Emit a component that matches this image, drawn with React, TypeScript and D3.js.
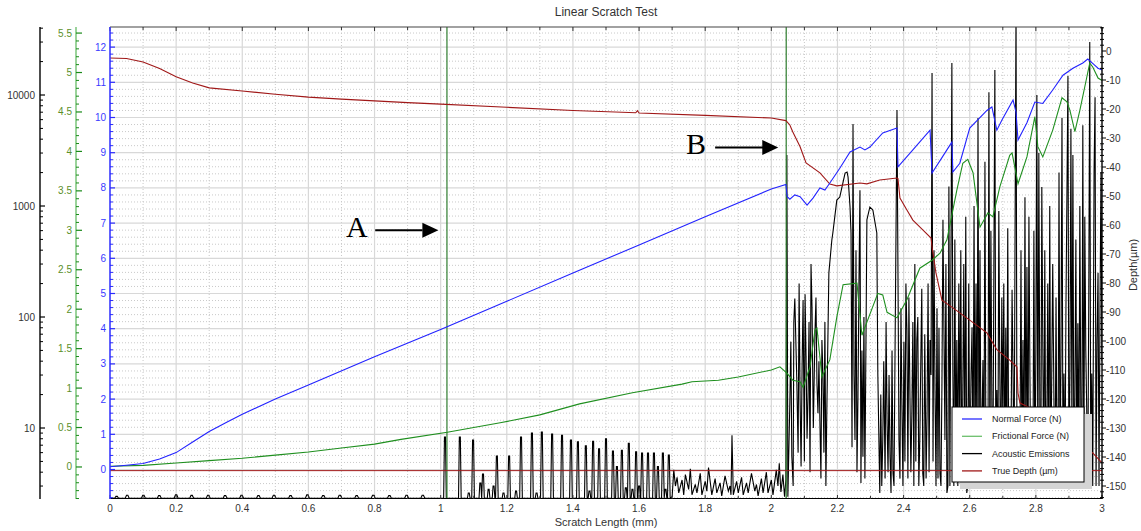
import React from 'react';
import * as d3 from 'd3';

type P = [number, number];

// ---------- tick values ----------
const xTickValues = [0, 0.2, 0.4, 0.6, 0.8, 1, 1.2, 1.4, 1.6, 1.8, 2, 2.2, 2.4, 2.6, 2.8, 3];
const normalTicks = [0, 1, 2, 3, 4, 5, 6, 7, 8, 9, 10, 11, 12];
const frictionTicks = [0, 0.5, 1, 1.5, 2, 2.5, 3, 3.5, 4, 4.5, 5, 5.5];
const aeTicks = [10, 100, 1000, 10000];
const depthTicks = [0, -10, -20, -30, -40, -50, -60, -70, -80, -90, -100, -110, -120, -130, -140, -150];

// ---------- series (scratch length mm, value) ----------
const normalForce: P[] = [
  [0, 0.08], [0.05, 0.12], [0.1, 0.17], [0.15, 0.3], [0.2, 0.48], [0.25, 0.78], [0.3, 1.08], [0.35, 1.33],
  [0.4, 1.57], [0.5, 2.0], [0.6, 2.4], [0.8, 3.2], [1.0, 3.98], [1.2, 4.78], [1.4, 5.58], [1.6, 6.38],
  [1.8, 7.18], [2.0, 7.97], [2.044, 8.1], [2.048, 7.75], [2.056, 7.68], [2.071, 7.8], [2.087, 7.75],
  [2.108, 7.51], [2.126, 7.71], [2.147, 8.0], [2.162, 7.94], [2.177, 8.14], [2.207, 8.56], [2.238, 9.02],
  [2.268, 9.16], [2.283, 9.08], [2.298, 9.16], [2.337, 9.56], [2.38, 9.7], [2.383, 8.6], [2.428, 9.08],
  [2.48, 9.64], [2.486, 8.42], [2.531, 9.08], [2.546, 9.3], [2.549, 8.45], [2.57, 8.7], [2.6, 9.7],
  [2.652, 10.2], [2.667, 10.3], [2.682, 9.64], [2.697, 9.92], [2.731, 10.5], [2.74, 10.15], [2.746, 9.36],
  [2.773, 9.85], [2.797, 10.44], [2.821, 10.4], [2.851, 10.78], [2.882, 11.2], [2.912, 11.4],
  [2.942, 11.55], [2.957, 11.66], [2.976, 11.5], [2.988, 11.4], [3.0, 11.35],
];

const frictionalForce: P[] = [
  [0, 0.01], [0.1, 0.02], [0.2, 0.05], [0.3, 0.08], [0.4, 0.11], [0.5, 0.15], [0.6, 0.19], [0.7, 0.24],
  [0.8, 0.29], [0.88, 0.35], [1.02, 0.44], [1.18, 0.56], [1.3, 0.66], [1.42, 0.8], [1.58, 0.94],
  [1.73, 1.05], [1.76, 1.08], [1.84, 1.1], [1.9, 1.14], [2.0, 1.23], [2.026, 1.27], [2.047, 1.19],
  [2.065, 1.1], [2.087, 1.08], [2.096, 1.01], [2.117, 1.27], [2.132, 1.74], [2.138, 1.76], [2.153, 1.14],
  [2.177, 1.36], [2.198, 1.9], [2.217, 2.31], [2.259, 2.33], [2.274, 1.67], [2.322, 2.2], [2.337, 2.18],
  [2.35, 1.96], [2.38, 1.89], [2.41, 2.12], [2.449, 2.52], [2.486, 2.62], [2.51, 2.71], [2.531, 2.88],
  [2.561, 3.51], [2.579, 3.85], [2.594, 3.9], [2.61, 3.73], [2.631, 3.04], [2.655, 3.22], [2.67, 3.17],
  [2.691, 3.55], [2.721, 3.95], [2.728, 3.98], [2.746, 3.59], [2.773, 3.93], [2.797, 4.44], [2.806, 4.06],
  [2.821, 3.93], [2.851, 4.27], [2.879, 4.68], [2.894, 4.63], [2.903, 4.52], [2.918, 4.25], [2.933, 4.52],
  [2.954, 4.94], [2.963, 5.12], [2.972, 5.07], [2.988, 4.93], [3.0, 4.9],
];

const trueDepth: P[] = [
  [0, -2.4], [0.05, -2.6], [0.1, -3.8], [0.15, -6], [0.2, -8.9], [0.25, -11.0], [0.3, -12.7], [0.4, -13.8],
  [0.5, -14.9], [0.6, -15.9], [0.7, -16.6], [0.8, -17.2], [0.9, -17.8], [1.0, -18.3], [1.2, -19.4],
  [1.4, -20.5], [1.59, -21.3], [1.595, -20.6], [1.6, -21.4], [1.8, -22.2], [2.0, -23.1], [2.044, -24.0],
  [2.056, -25.5], [2.065, -27.9], [2.087, -33], [2.105, -38.6], [2.147, -42], [2.177, -45.9], [2.198, -46.5],
  [2.268, -45.5], [2.289, -45.8], [2.328, -44.5], [2.38, -43.8], [2.383, -44], [2.389, -50.7],
  [2.41, -54.8], [2.428, -58.3], [2.458, -61.7], [2.483, -64.5], [2.486, -67.6], [2.498, -76.6],
  [2.516, -85.9], [2.546, -88.3], [2.6, -92.8], [2.652, -97.2], [2.682, -103], [2.721, -106.6],
  [2.743, -109], [2.746, -118], [2.752, -121.4], [2.8, -124], [2.85, -128], [2.9, -133], [2.95, -137],
  [2.972, -138.6], [3.0, -142],
];
const depthReference = -144.7;

const aeBaseline = 2.33;
const aeSmallBumps: P[] = [
  [0.02, 2.42], [0.052, 2.48], [0.101, 2.48], [0.149, 2.46], [0.2, 2.5], [0.247, 2.47], [0.297, 2.48],
  [0.348, 2.46], [0.398, 2.48], [0.449, 2.46], [0.496, 2.48], [0.546, 2.46], [0.597, 2.5], [0.645, 2.46],
  [0.695, 2.48], [0.746, 2.46], [0.796, 2.48], [0.845, 2.46], [0.897, 2.48], [0.946, 2.48],
];
const aeSpikes: P[] = [
  [1.013, 8.3], [1.058, 8.3], [1.085, 2.6], [1.098, 7.8], [1.12, 3.2], [1.128, 3.85], [1.145, 2.8],
  [1.16, 3.0], [1.17, 5.6], [1.19, 2.6], [1.207, 5.6], [1.228, 2.7], [1.243, 8.3], [1.276, 9.0],
  [1.29, 2.6], [1.306, 9.2], [1.337, 8.8], [1.367, 8.6], [1.394, 7.8], [1.415, 7.5], [1.439, 6.9],
  [1.45, 2.7], [1.461, 7.6], [1.479, 6.5], [1.5, 8.0], [1.521, 6.2], [1.533, 4.5], [1.548, 6.3],
  [1.56, 2.9], [1.569, 7.3], [1.58, 2.8], [1.591, 6.1], [1.6, 3.0], [1.609, 5.95], [1.627, 5.95],
  [1.645, 5.95], [1.657, 4.5], [1.672, 5.95], [1.68, 2.8], [1.69, 5.7],
];
const aeBurst: P[] = [
  [1.700, 2.4], [1.705, 4.2], [1.710, 3.0], [1.715, 3.6], [1.720, 2.6], [1.730, 3.4], [1.735, 2.5],
  [1.740, 3.8], [1.750, 2.8], [1.755, 4.3], [1.760, 2.5], [1.770, 3.1], [1.775, 2.6], [1.785, 3.9],
  [1.790, 2.5], [1.800, 3.3], [1.805, 2.7], [1.810, 4.4], [1.820, 2.5], [1.830, 3.5], [1.835, 2.6],
  [1.845, 3.2], [1.850, 2.45], [1.860, 3.7], [1.870, 2.7], [1.875, 3.0], [1.878, 2.5], [1.881, 8.6],
  [1.885, 2.5], [1.895, 3.3], [1.900, 2.6], [1.910, 3.6], [1.915, 2.5], [1.925, 3.2], [1.930, 2.6],
  [1.940, 3.9], [1.950, 2.7], [1.955, 3.1], [1.960, 2.45], [1.970, 3.5], [1.975, 2.6], [1.985, 4.0],
  [1.990, 2.6], [2.000, 3.4], [2.005, 2.5], [2.015, 4.2], [2.020, 3.0], [2.024, 4.8], [2.029, 2.65],
  [2.035, 3.8], [2.040, 2.4], [2.044, 3.4], [2.047, 2880], [2.050, 2.4], [2.056, 17], [2.059, 60],
  [2.062, 5.5], [2.066, 3.0], [2.068, 90], [2.071, 147], [2.077, 27], [2.081, 6], [2.084, 200],
  [2.087, 18], [2.090, 4.5], [2.093, 35], [2.096, 142], [2.100, 5], [2.102, 160], [2.105, 44],
  [2.108, 8], [2.111, 19], [2.114, 90], [2.117, 4], [2.120, 300], [2.123, 123], [2.127, 10],
  [2.132, 72], [2.135, 150], [2.138, 25], [2.141, 13.6], [2.144, 40], [2.147, 11.1], [2.150, 3.5],
  [2.153, 62], [2.156, 31], [2.159, 6], [2.162, 90], [2.165, 3.0], [2.168, 15.5],
  [2.174, 250], [2.183, 494], [2.186, 571], [2.198, 1130], [2.207, 1205], [2.223, 1980], [2.229, 2020],
  [2.232, 1825], [2.238, 980], [2.241, 571], [2.244, 6.7], [2.247, 5480], [2.250, 30], [2.253, 7.8],
  [2.256, 400], [2.259, 4], [2.262, 19], [2.265, 200], [2.268, 1390], [2.271, 3.2], [2.274, 50],
  [2.277, 5.5], [2.280, 100], [2.283, 3.5], [2.289, 750], [2.298, 980], [2.307, 920], [2.319, 571],
  [2.322, 31], [2.328, 2.6], [2.331, 20], [2.334, 3], [2.337, 7.8], [2.340, 40], [2.344, 3.5],
  [2.347, 90], [2.350, 11.1], [2.353, 4], [2.356, 30], [2.359, 5.5], [2.362, 2.6], [2.365, 50],
  [2.368, 3.9], [2.371, 3], [2.374, 44], [2.380, 7330], [2.386, 7.8], [2.389, 3.5], [2.392, 120],
  [2.395, 15.5], [2.398, 3], [2.401, 60], [2.404, 5], [2.407, 200], [2.410, 76], [2.413, 3.5],
  [2.416, 150], [2.419, 22], [2.422, 4], [2.425, 13.6], [2.428, 90], [2.431, 3], [2.434, 300],
  [2.437, 5], [2.440, 62], [2.443, 100], [2.446, 3], [2.449, 7.8], [2.452, 40], [2.455, 180],
  [2.458, 3.9], [2.461, 3], [2.464, 70], [2.468, 3.5], [2.471, 13.6], [2.474, 200], [2.477, 4],
  [2.480, 62], [2.483, 30], [2.486, 15800], [2.489, 5], [2.492, 400], [2.495, 22], [2.498, 3],
  [2.501, 120], [2.504, 3.5], [2.507, 80], [2.510, 3.9], [2.513, 3], [2.516, 25], [2.519, 750],
  [2.525, 7.8], [2.528, 300], [2.531, 2.6], [2.534, 3], [2.537, 1500], [2.540, 3], [2.546, 19400],
  [2.549, 31], [2.552, 3], [2.555, 500], [2.558, 4], [2.561, 62], [2.564, 3], [2.567, 200],
  [2.570, 7.8], [2.573, 400], [2.576, 3], [2.579, 19], [2.582, 300], [2.585, 3.5], [2.588, 800],
  [2.591, 2.6], [2.594, 3], [2.597, 200], [2.600, 3.5], [2.604, 30], [2.607, 81], [2.610, 3],
  [2.613, 1000], [2.616, 4], [2.619, 200], [2.622, 3.9], [2.625, 6210], [2.628, 3], [2.631, 400],
  [2.634, 5], [2.637, 11.1], [2.640, 41], [2.643, 3], [2.646, 2500], [2.649, 4], [2.652, 7.8],
  [2.655, 3], [2.658, 10600], [2.661, 3.5], [2.664, 600], [2.667, 15.5], [2.670, 3], [2.673, 300],
  [2.676, 16800], [2.679, 3], [2.682, 22], [2.685, 3], [2.688, 900], [2.691, 31], [2.694, 3],
  [2.697, 150], [2.700, 11.1], [2.703, 200], [2.706, 3], [2.709, 80], [2.712, 4.45], [2.715, 630],
  [2.718, 3], [2.721, 15.5], [2.724, 3], [2.728, 176], [2.731, 31], [2.734, 3], [2.737, 500],
  [2.740, 60000], [2.743, 3], [2.746, 15.5], [2.749, 3], [2.752, 5.5], [2.755, 400], [2.758, 3],
  [2.761, 62], [2.764, 3], [2.767, 1200], [2.770, 4], [2.773, 282], [2.776, 3], [2.779, 800],
  [2.782, 31], [2.785, 3], [2.788, 10.2], [2.791, 3], [2.794, 600], [2.797, 3], [2.800, 50],
  [2.803, 10000], [2.806, 3], [2.809, 3000], [2.812, 15.5], [2.815, 3], [2.818, 1480], [2.821, 54],
  [2.824, 3], [2.827, 400], [2.830, 3], [2.833, 7.8], [2.836, 200], [2.839, 3], [2.842, 1000],
  [2.845, 3], [2.848, 31], [2.851, 300], [2.855, 13.6], [2.858, 3], [2.861, 150], [2.864, 3.9],
  [2.867, 3], [2.870, 2000], [2.873, 3], [2.876, 50], [2.879, 6210], [2.882, 3], [2.885, 31],
  [2.888, 3], [2.891, 123], [2.897, 14800], [2.900, 3], [2.903, 31], [2.906, 4960], [2.909, 7.8],
  [2.912, 2880], [2.915, 3], [2.918, 17.9], [2.921, 500], [2.924, 3], [2.927, 88], [2.930, 3],
  [2.933, 1000], [2.936, 13.6], [2.939, 3], [2.942, 5340], [2.945, 3], [2.948, 800], [2.951, 50],
  [2.954, 13.6], [2.957, 3], [2.960, 150], [2.963, 30000], [2.966, 3], [2.969, 31], [2.972, 3],
  [2.976, 2000], [2.979, 9560], [2.982, 3], [2.985, 62], [2.988, 250], [2.991, 3], [2.994, 123],
  [2.997, 2000], [3.0, 40],
];

const markerA = 1.019;
const markerB = 2.045;

const legendItems = [
  { label: 'Normal Force (N)', color: '#2a2aff' },
  { label: 'Frictional Force (N)', color: '#6cbf6c' },
  { label: 'Acoustic Emissions', color: '#000000' },
  { label: 'True Depth (µm)', color: '#a01818' },
];

const FONT = '"Liberation Sans", Arial, sans-serif';

export default function App() {
  const L = 110, R = 1102, T = 27, B = 499;
  const x = d3.scaleLinear().domain([0, 3]).range([L, R]);
  const yN = d3.scaleLinear().domain([-0.838, 12.571]).range([B, T]);
  const yF = d3.scaleLinear().domain([-0.406, 5.577]).range([B, T]);
  const yAE = d3.scaleLog().domain([2.293, 40990]).range([B, T]);
  const yD = d3.scaleLinear().domain([-154.48, 8.28]).range([B, T]);

  const aeSeries: P[] = [[0, aeBaseline]];
  aeSmallBumps.forEach(([m, v]) => {
    aeSeries.push([m - 0.006, aeBaseline], [m - 0.002, v], [m + 0.002, v], [m + 0.006, aeBaseline]);
  });
  aeSpikes.forEach(([m, v]) => {
    aeSeries.push([m - 0.004, aeBaseline], [m - 0.0015, v], [m + 0.0015, v], [m + 0.004, aeBaseline]);
  });
  aeBurst.forEach((p) => aeSeries.push(p));
  aeSeries.sort((a, b) => a[0] - b[0]);

  const lN = d3.line<P>().x((d) => x(d[0])).y((d) => yN(d[1]));
  const lF = d3.line<P>().x((d) => x(d[0])).y((d) => yF(d[1]));
  const lD = d3.line<P>().x((d) => x(d[0])).y((d) => yD(d[1]));
  const lAE = d3.line<P>().x((d) => x(d[0])).y((d) => yAE(d[1]));

  const xMinor = d3.range(1, 30, 2).map((i) => i / 10);
  const nMinor = d3.range(-4, 63).map((i) => +(i * 0.2).toFixed(1)).filter((v) => !Number.isInteger(v));
  const fMinor = d3.range(-4, 56).map((i) => +(i * 0.1).toFixed(1)).filter((v) => Math.abs(v * 2 - Math.round(v * 2)) > 1e-6);
  const aeMinor: number[] = [];
  [1, 10, 100, 1000, 10000].forEach((d) => {
    for (let k = 2; k <= 9; k++) {
      const v = d * k;
      if (v > 2.293 && v < 40990) aeMinor.push(v);
    }
  });
  const dMinor = d3.range(-154, 9, 2).filter((v) => v % 10 !== 0);

  const fmt = (v: number) => String(+v.toFixed(1));

  const legX = 952, legY = 407, legW = 132, legH = 75;

  return (
    <svg width={1141} height={531} style={{ position: 'absolute', left: 0, top: 0, background: '#fff' }} fontFamily={FONT}>
      <defs>
        <clipPath id="plotClip">
          <rect x={L} y={T} width={R - L} height={B - T} />
        </clipPath>
      </defs>
      <rect x={0} y={0} width={1141} height={531} fill="#fff" />
      <text x={(L + R) / 2} y={16} textAnchor="middle" fontSize={12} fill="#333">Linear Scratch Test</text>

      {/* grid */}
      <g>
        {nMinor.map((v) => (
          <line key={'nm' + v} x1={L} x2={R} y1={yN(v)} y2={yN(v)} stroke="#c9c9c9" strokeDasharray="1,2" />
        ))}
        {xMinor.map((v) => (
          <line key={'xm' + v} x1={x(v)} x2={x(v)} y1={T} y2={B} stroke="#c9c9c9" strokeDasharray="1,2" />
        ))}
        {normalTicks.map((v) => (
          <line key={'ng' + v} x1={L} x2={R} y1={yN(v)} y2={yN(v)} stroke="#d8d8d8" strokeWidth={1.2} />
        ))}
        {xTickValues.slice(1, -1).map((v) => (
          <line key={'xg' + v} x1={x(v)} x2={x(v)} y1={T} y2={B} stroke="#d8d8d8" strokeWidth={1.2} />
        ))}
      </g>

      {/* series */}
      <g clipPath="url(#plotClip)">
        <path d={lAE(aeSeries) || ''} fill="none" stroke="#000" strokeWidth={1.1} strokeLinejoin="miter" />
        <line x1={x(markerA)} x2={x(markerA)} y1={T} y2={B} stroke="#2e7d2e" strokeWidth={1.2} />
        <line x1={x(markerB)} x2={x(markerB)} y1={T} y2={B} stroke="#2e7d2e" strokeWidth={1.2} />
        <line x1={L} x2={R} y1={yD(depthReference)} y2={yD(depthReference)} stroke="#a01818" strokeWidth={1} />
        <path d={lD(trueDepth) || ''} fill="none" stroke="#a01818" strokeWidth={1.1} />
        <path d={lF(frictionalForce) || ''} fill="none" stroke="#1f8f1f" strokeWidth={1.1} />
        <path d={lN(normalForce) || ''} fill="none" stroke="#2222ff" strokeWidth={1.1} />
      </g>

      {/* frame top & bottom */}
      <line x1={L} x2={R} y1={T} y2={T} stroke="#444" strokeWidth={1.2} />
      <line x1={L} x2={R} y1={B - 0.5} y2={B - 0.5} stroke="#000" strokeWidth={1.2} />
      {xTickValues.map((v) => (
        <g key={'xt' + v}>
          <line x1={x(v)} x2={x(v)} y1={T} y2={T + 4} stroke="#333" />
          <line x1={x(v)} x2={x(v)} y1={B} y2={B - 4} stroke="#333" />
          <text x={x(v)} y={512} textAnchor="middle" fontSize={10} fill="#333">{fmt(v)}</text>
        </g>
      ))}
      {xMinor.map((v) => (
        <g key={'xmt' + v}>
          <line x1={x(v)} x2={x(v)} y1={T} y2={T + 3} stroke="#333" />
          <line x1={x(v)} x2={x(v)} y1={B} y2={B - 3} stroke="#333" />
        </g>
      ))}
      <text x={(L + R) / 2} y={526} textAnchor="middle" fontSize={11} fill="#333">Scratch Length (mm)</text>

      {/* Normal force axis (blue) */}
      <line x1={L} x2={L} y1={T} y2={B} stroke="#3a3aff" strokeWidth={1.6} />
      {normalTicks.map((v) => (
        <g key={'nt' + v}>
          <line x1={L} x2={L + 5} y1={yN(v)} y2={yN(v)} stroke="#2a2aff" strokeWidth={1.2} />
          <text x={106} y={yN(v)} dy="0.35em" textAnchor="end" fontSize={10} fill="#3a3aff">{v}</text>
        </g>
      ))}
      {nMinor.map((v) => (
        <line key={'ntm' + v} x1={L} x2={L + 3} y1={yN(v)} y2={yN(v)} stroke="#2a2aff" />
      ))}

      {/* Frictional force axis (green) */}
      <line x1={76} x2={76} y1={T} y2={B} stroke="#82c882" strokeWidth={1.6} />
      {frictionTicks.map((v) => (
        <g key={'ft' + v}>
          <line x1={76} x2={82} y1={yF(v)} y2={yF(v)} stroke="#1a8a1a" strokeWidth={1.2} />
          <text x={72} y={yF(v)} dy="0.35em" textAnchor="end" fontSize={10} fill="#5a8f2a">{fmt(v)}</text>
        </g>
      ))}
      {fMinor.map((v) => (
        <line key={'ftm' + v} x1={76} x2={79} y1={yF(v)} y2={yF(v)} stroke="#1a8a1a" />
      ))}

      {/* Acoustic emission axis (black, log) */}
      <line x1={40} x2={40} y1={T} y2={B} stroke="#000" strokeWidth={1.4} />
      {aeTicks.map((v) => (
        <g key={'at' + v}>
          <line x1={40} x2={45} y1={yAE(v)} y2={yAE(v)} stroke="#000" strokeWidth={1.2} />
          <text x={35} y={yAE(v)} dy="0.35em" textAnchor="end" fontSize={10} fill="#333">{v}</text>
        </g>
      ))}
      {aeMinor.map((v) => (
        <line key={'atm' + v} x1={40} x2={43} y1={yAE(v)} y2={yAE(v)} stroke="#000" />
      ))}

      {/* Depth axis (right) */}
      <line x1={R} x2={R} y1={T} y2={B} stroke="#000" strokeWidth={1.4} />
      {depthTicks.map((v) => (
        <g key={'dt' + v}>
          <line x1={R} x2={R + 4} y1={yD(v)} y2={yD(v)} stroke="#000" />
          <text x={1106} y={yD(v)} dy="0.35em" textAnchor="start" fontSize={10} fill="#333">{v}</text>
        </g>
      ))}
      {dMinor.map((v) => (
        <line key={'dtm' + v} x1={R - 2} x2={R + 2} y1={yD(v)} y2={yD(v)} stroke="#000" />
      ))}
      <text transform={`translate(1137,${265}) rotate(-90)`} textAnchor="middle" fontSize={11} fill="#333">Depth(µm)</text>

      {/* annotations */}
      <g fontFamily='"Liberation Serif", "Times New Roman", serif' fontSize={30} fill="#000">
        <text x={346} y={237}>A</text>
        <line x1={x(0.802)} x2={x(0.945)} y1={yN(6.8)} y2={yN(6.8)} stroke="#000" strokeWidth={2} />
        <path d={`M${x(0.993)},${yN(6.8)} L${x(0.993) - 16},${yN(6.8) - 7.5} L${x(0.993) - 16},${yN(6.8) + 7.5} Z`} fill="#000" />
        <text x={686} y={154}>B</text>
        <line x1={x(1.83)} x2={x(1.975)} y1={yN(9.15)} y2={yN(9.15)} stroke="#000" strokeWidth={2} />
        <path d={`M${x(2.021)},${yN(9.15)} L${x(2.021) - 16},${yN(9.15) - 7.5} L${x(2.021) - 16},${yN(9.15) + 7.5} Z`} fill="#000" />
      </g>

      {/* legend */}
      <rect x={legX + 8} y={legY + 7} width={legW} height={legH} fill="#d4d4d4" />
      <rect x={legX} y={legY} width={legW} height={legH} fill="#fff" stroke="#000" strokeWidth={1} />
      {legendItems.map((it, i) => {
        const yy = legY + 12 + i * 17.3;
        return (
          <g key={it.label}>
            <line x1={legX + 10} x2={legX + 30} y1={yy} y2={yy} stroke={it.color} strokeWidth={1.3} />
            <text x={legX + 40} y={yy} dy="0.35em" fontSize={9} fill="#222">{it.label}</text>
          </g>
        );
      })}
    </svg>
  );
}
